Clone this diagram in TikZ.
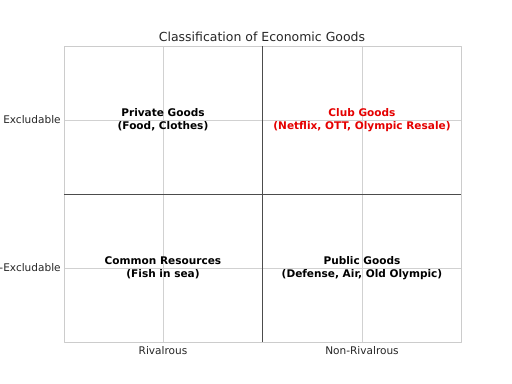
\documentclass[tikz,border=0pt]{standalone}
\usepackage{fontspec}
\setmainfont{DejaVu Sans}
\begin{document}
\begin{tikzpicture}[x=0.02cm,y=0.02cm, font=\fontsize{6.0}{7.3}\selectfont, line join=round, line cap=butt,
  grid/.style={draw=black!18, line width=0.45pt},
  goods/.style={align=center, font=\fontsize{6.0}{7.4}\selectfont\bfseries, inner sep=0pt},
  tick/.style={text=black!85, inner sep=0pt}]
\def\xmin{64} \def\xmax{461} \def\ymin{42} \def\ymax{338} % axes box
\def\xmid{262.5} \def\ymid{190}
\clip (0,0) rectangle (512,384);
\fill[white] (0,0) rectangle (512,384);
% grid
\foreach \x in {163,362}{\draw[grid] (\x,\ymin)--(\x,\ymax);}
\foreach \y in {116,264}{\draw[grid] (\xmin,\y)--(\xmax,\y);}
\draw[draw=black!20, line width=0.5pt] (\xmin,\ymin) rectangle (\xmax,\ymax);
% quadrants
\draw[black!70, line width=0.45pt] (\xmid,\ymin)--(\xmid,\ymax) (\xmin,\ymid)--(\xmax,\ymid);
\node[tick] (title) at (262,347.5) {\fontsize{7.1}{8.5}\selectfont Classification of Economic Goods};
\node[tick, anchor=east] (excl) at (61,264) {Excludable};
\node[tick, anchor=east] (nonexcl) at (61,116) {Non-Excludable};
\node[tick, anchor=north] (riv) at (163,38) {Rivalrous};
\node[tick, anchor=north] (nonriv) at (362,38) {Non-Rivalrous};
\node[goods] (private) at (163,264) {Private Goods\\(Food, Clothes)};
\node[goods, text=red!90!black] (club) at (362,264) {Club Goods\\(Netflix, OTT, Olympic Resale)};
\node[goods] (common) at (163,116) {Common Resources\\(Fish in sea)};
\node[goods] (public) at (362,116) {Public Goods\\(Defense, Air, Old Olympic)};
\end{tikzpicture}
\end{document}
